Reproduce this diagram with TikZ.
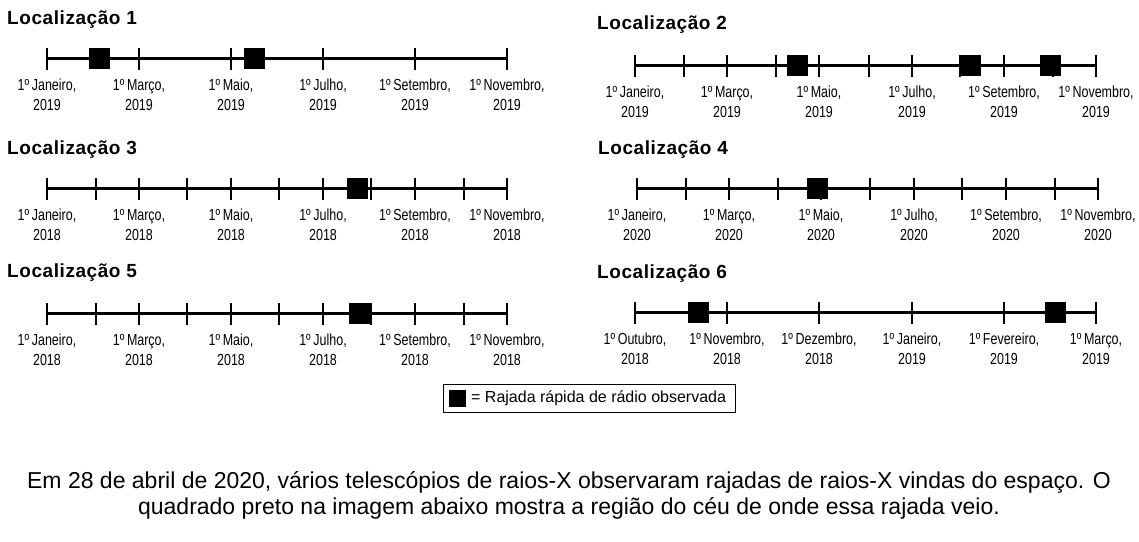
\documentclass[tikz,border=0pt]{standalone}
\usepackage{fontspec}
\setmainfont{Liberation Sans}
\newfontfamily\narrowfont[FakeStretch=0.78]{Liberation Sans}

\tikzset{
    timeline/.style={line width=3pt},
    tickmark/.style={line width=1.2pt},
    burst/.style={fill=black, minimum size=21pt, inner sep=0pt},
    loctitle/.style={anchor=west, inner sep=0pt, font=\bfseries\fontsize{19}{22}\selectfont\addfontfeature{LetterSpace=3}},
    datelabel/.style={align=center, inner sep=0pt, font=\narrowfont\fontsize{16}{20}\selectfont},
}

\begin{document}
\begin{tikzpicture}[x=1pt, y=-1pt]

    % Fix the page to the size of the reference
    \useasboundingbox (0,0) rectangle (1139,541);

    % ---------------- Localizacao 1 ----------------
    \node[loctitle] (t1) at (7,20) {Localização 1};
    \coordinate (a1) at (47,58);
    \coordinate (b1) at (507,58);
    \draw[timeline] (a1) -- (b1);
    \foreach \x in {47,139,231,323,415,507}
        \draw[tickmark] (\x,48) -- (\x,70);
    \foreach \x/\m in {47/Janeiro, 139/Março, 231/Maio, 323/Julho, 415/Setembro, 507/Novembro}
        \node[datelabel] at (\x,95) {1º\,\m,\\2019};
    \node[burst] (s1a) at (99.5,58) {};
    \node[burst] (s1b) at (254,58) {};

    % ---------------- Localizacao 2 ----------------
    \node[loctitle] (t2) at (597,25) {Localização 2};
    \coordinate (a2) at (635,65);
    \coordinate (b2) at (1096,65);
    \draw[timeline] (a2) -- (b2);
    \foreach \x in {635,684,727,776,819,869,912,960,1004,1053,1096}
        \draw[tickmark] (\x,55) -- (\x,77);
    \foreach \x/\m in {635/Janeiro, 727/Março, 819/Maio, 912/Julho, 1004/Setembro, 1096/Novembro}
        \node[datelabel] at (\x,102) {1º\,\m,\\2019};
    \node[burst] (s2a) at (797,65) {};
    \node[burst] (s2b) at (970,65) {};
    \node[burst] (s2c) at (1050,65) {};

    % ---------------- Localizacao 3 ----------------
    \node[loctitle] (t3) at (7,150) {Localização 3};
    \coordinate (a3) at (47,188);
    \coordinate (b3) at (507,188);
    \draw[timeline] (a3) -- (b3);
    \foreach \x in {47,96,139,187,231,279,323,371,415,464,507}
        \draw[tickmark] (\x,178) -- (\x,200);
    \foreach \x/\m in {47/Janeiro, 139/Março, 231/Maio, 323/Julho, 415/Setembro, 507/Novembro}
        \node[datelabel] at (\x,225) {1º\,\m,\\2018};
    \node[burst] (s3a) at (357,188) {};

    % ---------------- Localizacao 4 ----------------
    \node[loctitle] (t4) at (598,150) {Localização 4};
    \coordinate (a4) at (637,188);
    \coordinate (b4) at (1098,188);
    \draw[timeline] (a4) -- (b4);
    \foreach \x in {637,686,729,778,821,870,914,962,1006,1055,1098}
        \draw[tickmark] (\x,178) -- (\x,200);
    \foreach \x/\m in {637/Janeiro, 729/Março, 821/Maio, 914/Julho, 1006/Setembro, 1098/Novembro}
        \node[datelabel] at (\x,225) {1º\,\m,\\2020};
    \node[burst] (s4a) at (817,188) {};

    % ---------------- Localizacao 5 ----------------
    \node[loctitle] (t5) at (7,273) {Localização 5};
    \coordinate (a5) at (47,313);
    \coordinate (b5) at (507,313);
    \draw[timeline] (a5) -- (b5);
    \foreach \x in {47,96,139,187,231,279,323,371,415,464,507}
        \draw[tickmark] (\x,303) -- (\x,325);
    \foreach \x/\m in {47/Janeiro, 139/Março, 231/Maio, 323/Julho, 415/Setembro, 507/Novembro}
        \node[datelabel] at (\x,350) {1º\,\m,\\2018};
    \node[burst] (s5a) at (359,313) {};

    % ---------------- Localizacao 6 ----------------
    \node[loctitle] (t6) at (597,274) {Localização 6};
    \coordinate (a6) at (635,312);
    \coordinate (b6) at (1096,312);
    \draw[timeline] (a6) -- (b6);
    \foreach \x in {635,727,819,912,1004,1096}
        \draw[tickmark] (\x,302) -- (\x,324);
    \foreach \x/\m/\y in {635/Outubro/2018, 727/Novembro/2018, 819/Dezembro/2018, 912/Janeiro/2019, 1004/Fevereiro/2019, 1096/Março/2019}
        \node[datelabel] at (\x,349) {1º\,\m,\\\y};
    \node[burst] (s6a) at (698,312) {};
    \node[burst] (s6b) at (1055,312) {};

    % ---------------- Legend ----------------
    \draw[line width=1pt] (443,384) rectangle (735,412);
    \node[fill=black, minimum size=17pt, inner sep=0pt] (key) at (457,398) {};
    \node[anchor=west, inner sep=0pt, font=\fontsize{16}{19}\selectfont] (keytext) at (471,398)
        {= Rajada rápida de rádio observada};

    % ---------------- Caption ----------------
    \node[align=center, font=\fontsize{23}{26}\selectfont] (caption) at (569,495)
        {Em 28 de abril de 2020, vários telescópios de raios-X observaram rajadas de raios-X vindas do espaço. O\\
         quadrado preto na imagem abaixo mostra a região do céu de onde essa rajada veio.};

\end{tikzpicture}
\end{document}
